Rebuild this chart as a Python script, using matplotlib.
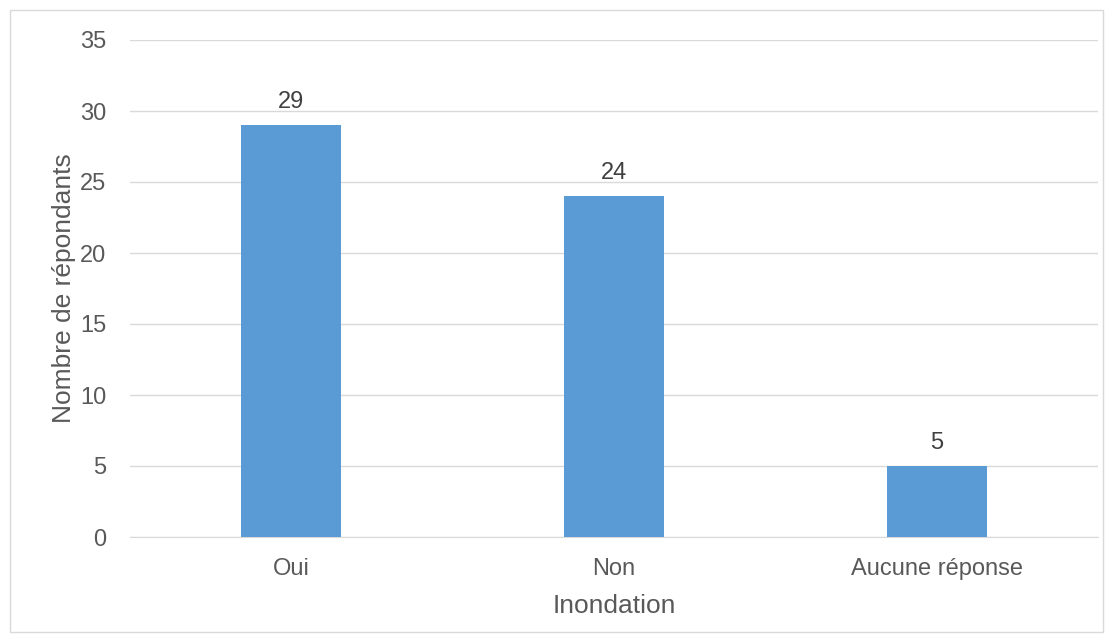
import matplotlib.pyplot as plt
from matplotlib.patches import Rectangle

categories = ["Oui", "Non", "Aucune réponse"]
counts = [29, 24, 5]
y_ticks = [0, 5, 10, 15, 20, 25, 30, 35]

plt.rcParams["font.family"] = ["Liberation Sans", "DejaVu Sans"]
text_color = "#595959"

fig = plt.figure(figsize=(11.13, 6.42), dpi=100)
ax = fig.add_axes([130 / 1113, 1 - 537 / 642, 968 / 1113, 497 / 642])

x = range(len(categories))
ax.bar(x, counts, width=0.31, color="#5B9BD5", zorder=3)
for xi, v in zip(x, counts):
    ax.text(xi, v + 0.85, str(v), ha="center", va="bottom", fontsize=17, color="#404040")

ax.set_xlim(-0.5, len(categories) - 0.5)
ax.set_ylim(0, 35)
ax.set_yticks(y_ticks)
ax.set_xticks(list(x))
ax.set_xticklabels(categories)
ax.tick_params(axis="both", length=0, labelsize=17, colors=text_color)
ax.tick_params(axis="y", pad=17)
ax.tick_params(axis="x", pad=15)
ax.grid(axis="y", color="#D9D9D9", linewidth=1, zorder=0)
for side in ["top", "right", "left"]:
    ax.spines[side].set_visible(False)
ax.spines["bottom"].set_color("#D9D9D9")

ax.set_xlabel("Inondation", fontsize=19, color=text_color, labelpad=10)
ax.set_ylabel("Nombre de répondants", fontsize=19, color=text_color, labelpad=3)

fig.patches.append(Rectangle((10 / 1113, 10 / 642), 1093 / 1113, 622 / 642,
                             transform=fig.transFigure, fill=False,
                             edgecolor="#D9D9D9", linewidth=1))

fig.savefig("out.png", dpi=100)
